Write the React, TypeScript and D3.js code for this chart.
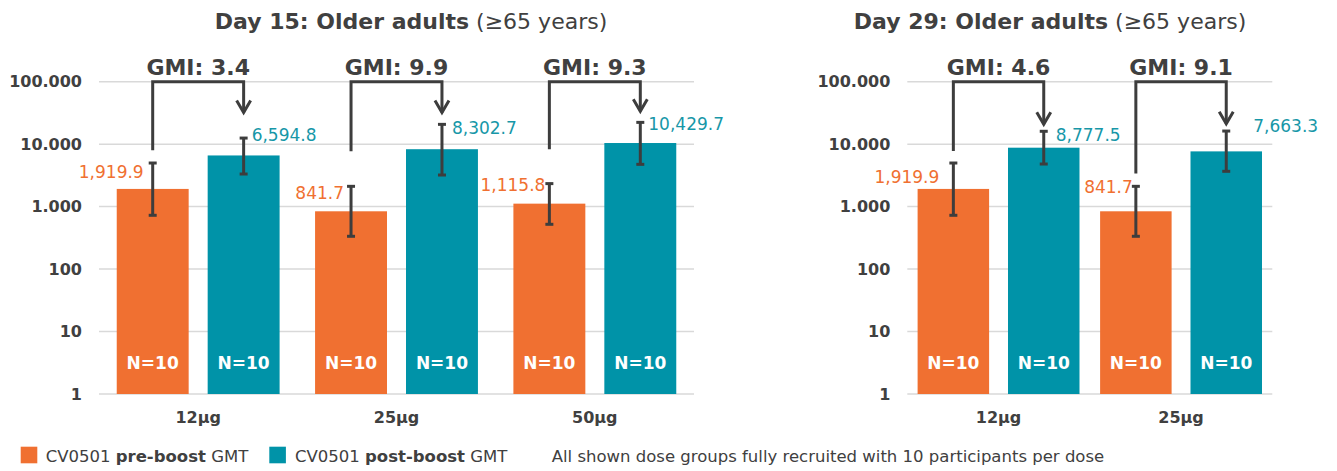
import * as d3 from "d3";

// ---- data ----
const doses15 = ["12µg", "25µg", "50µg"];
const pre15 = [1919.9, 841.7, 1115.8];
const preLo15 = [726, 335, 521];
const preHi15 = [4990, 2113, 2335];
const post15 = [6594.8, 8302.7, 10429.7];
const postLo15 = [3325, 3206, 4753];
const postHi15 = [12520, 20750, 22330];
const gmi15 = [3.4, 9.9, 9.3];
// bracket ends (data units)
const gmiFrom15 = [7960, 7700, 8300];
const gmiTo15 = [32000, 32000, 33600];

const doses29 = ["12µg", "25µg"];
const pre29 = [1919.9, 841.7];
const preLo29 = [726, 335];
const preHi29 = [4990, 2113];
const post29 = [8777.5, 7663.3];
const postLo29 = [4808, 3675];
const postHi29 = [16070, 16220];
const gmi29 = [4.6, 9.1];
const gmiFrom29 = [7780, 3375];
const gmiTo29 = [20800, 21200];

const nPerGroup = 10;
const yTicks = [1, 10, 100, 1000, 10000, 100000];
const yTickLabels = ["1", "10", "100", "1.000", "10.000", "100.000"];

// label nudges [dx, dy]
const preNudge15 = [[-2, 1], [0, -1], [3, -7]];
const postNudge15 = [[0, -4], [2, 3], [0, 1]];
const preNudge29 = [[-7, 6], [4, -7]];
const postNudge29 = [[4, 3], [19, -6]];

const ORANGE = "#F07031";
const TEAL = "#0093A8";
const TEAL_TXT = "#1797A8";
const DARK = "#3D3D3D";
const TXT = "#404040";
const FONT = "'DejaVu Sans', Verdana, sans-serif";

const yScale = d3.scaleLog().domain([1, 100000]).range([394, 81.7]);
const fmt = d3.format(",.1f");

interface PanelProps {
  title: string;
  titleX: number;
  x0: number;
  x1: number;
  outer: number;
  doses: string[];
  pre: number[];
  preLo: number[];
  preHi: number[];
  post: number[];
  postLo: number[];
  postHi: number[];
  gmi: number[];
  gmiFrom: number[];
  gmiTo: number[];
  preNudge: number[][];
  postNudge: number[][];
}

const Panel = (p: PanelProps) => {
  const xCat = d3.scaleBand().domain(p.doses).range([p.x0, p.x1]).padding(0);
  const xSub = d3
    .scaleBand()
    .domain(["pre", "post"])
    .range([0, xCat.bandwidth()])
    .paddingInner(0.209)
    .paddingOuter(p.outer);
  const bw = xSub.bandwidth();
  const y0 = yScale(1);

  const errBar = (cx: number, lo: number, hi: number, key: string) => (
    <g key={key} stroke={DARK} strokeWidth={3}>
      <line x1={cx} x2={cx} y1={yScale(lo)} y2={yScale(hi)} />
      <line x1={cx - 4} x2={cx + 4} y1={yScale(lo)} y2={yScale(lo)} />
      <line x1={cx - 4} x2={cx + 4} y1={yScale(hi)} y2={yScale(hi)} />
    </g>
  );

  return (
    <g fontFamily={FONT}>
      <text x={p.titleX} y={29} textAnchor="middle" fontSize={22} fill={TXT}>
        <tspan fontWeight="bold">{p.title}</tspan>
        <tspan> (≥65 years)</tspan>
      </text>
      {yTicks.map((t, i) => (
        <g key={"g" + t}>
          <line x1={p.x0} x2={p.x1} y1={yScale(t)} y2={yScale(t)} stroke="#D9D9D9" strokeWidth={1.5} />
          <text x={p.x0 - 17} y={yScale(t)} dy="0.36em" textAnchor="end" fontSize={16} fontWeight="bold" fill={TXT}>
            {yTickLabels[i]}
          </text>
        </g>
      ))}
      {p.doses.map((d, i) => {
        const xp = xCat(d)! + xSub("pre")!;
        const xq = xCat(d)! + xSub("post")!;
        const cp = xp + bw / 2;
        const cq = xq + bw / 2;
        const cc = xCat(d)! + xCat.bandwidth() / 2;
        const gTo = yScale(p.gmiTo[i]);
        return (
          <g key={d}>
            <rect x={xp} y={yScale(p.pre[i])} width={bw} height={y0 - yScale(p.pre[i])} fill={ORANGE} />
            <rect x={xq} y={yScale(p.post[i])} width={bw} height={y0 - yScale(p.post[i])} fill={TEAL} />
            {errBar(cp, p.preLo[i], p.preHi[i], "ep")}
            {errBar(cq, p.postLo[i], p.postHi[i], "eq")}
            <text
              x={cp - 7 + p.preNudge[i][0]}
              y={yScale(p.preHi[i]) + 8 + p.preNudge[i][1]}
              dy="0.36em"
              textAnchor="end"
              fontSize={17}
              fill={ORANGE}
            >
              {fmt(p.pre[i])}
            </text>
            <text
              x={cq + 8 + p.postNudge[i][0]}
              y={yScale(p.postHi[i]) + 1 + p.postNudge[i][1]}
              dy="0.36em"
              textAnchor="start"
              fontSize={17}
              fill={TEAL_TXT}
            >
              {fmt(p.post[i])}
            </text>
            <text x={cp} y={y0 - 31} dy="0.36em" textAnchor="middle" fontSize={17} fontWeight="bold" fill="#fff">
              N={nPerGroup}
            </text>
            <text x={cq} y={y0 - 31} dy="0.36em" textAnchor="middle" fontSize={17} fontWeight="bold" fill="#fff">
              N={nPerGroup}
            </text>
            <text x={cc} y={423} textAnchor="middle" fontSize={16} fontWeight="bold" fill={TXT}>
              {d}
            </text>
            <path
              d={`M${cp},${yScale(p.gmiFrom[i])}V${yScale(100000)}H${cq}V${gTo}`}
              fill="none"
              stroke={DARK}
              strokeWidth={3}
            />
            <path
              d={`M${cq - 7},${gTo - 12}L${cq},${gTo}L${cq + 7},${gTo - 12}`}
              fill="none"
              stroke={DARK}
              strokeWidth={3}
            />
            <text x={cc} y={75} textAnchor="middle" fontSize={22} fontWeight="bold" fill={TXT}>
              GMI: {d3.format(".1f")(p.gmi[i])}
            </text>
          </g>
        );
      })}
    </g>
  );
};

const App = () => {
  return (
    <div style={{ position: "absolute", left: 0, top: 0 }}>
      <svg width={1337} height={471} style={{ display: "block", background: "#fff" }}>
        <Panel
          title="Day 15: Older adults"
          titleX={411}
          x0={99}
          x1={694}
          outer={0.195}
          doses={doses15}
          pre={pre15}
          preLo={preLo15}
          preHi={preHi15}
          post={post15}
          postLo={postLo15}
          postHi={postHi15}
          gmi={gmi15}
          gmiFrom={gmiFrom15}
          gmiTo={gmiTo15}
          preNudge={preNudge15}
          postNudge={postNudge15}
        />
        <Panel
          title="Day 29: Older adults"
          titleX={1050}
          x0={907.3}
          x1={1272.3}
          outer={0.114}
          doses={doses29}
          pre={pre29}
          preLo={preLo29}
          preHi={preHi29}
          post={post29}
          postLo={postLo29}
          postHi={postHi29}
          gmi={gmi29}
          gmiFrom={gmiFrom29}
          gmiTo={gmiTo29}
          preNudge={preNudge29}
          postNudge={postNudge29}
        />
        <g fontFamily={FONT} fontSize={16.5} fill={TXT}>
          <rect x={20.7} y={446.7} width={16.6} height={16.6} fill={ORANGE} />
          <text x={45.7} y={461.5}>
            CV0501 <tspan fontWeight="bold">pre-boost</tspan> GMT
          </text>
          <rect x={269.3} y={446.7} width={16.6} height={16.6} fill={TEAL} />
          <text x={295} y={461.5}>
            CV0501 <tspan fontWeight="bold">post-boost</tspan> GMT
          </text>
          <text x={551.7} y={461.5}>
            All shown dose groups fully recruited with {nPerGroup} participants per dose
          </text>
        </g>
      </svg>
    </div>
  );
};

export default App;
